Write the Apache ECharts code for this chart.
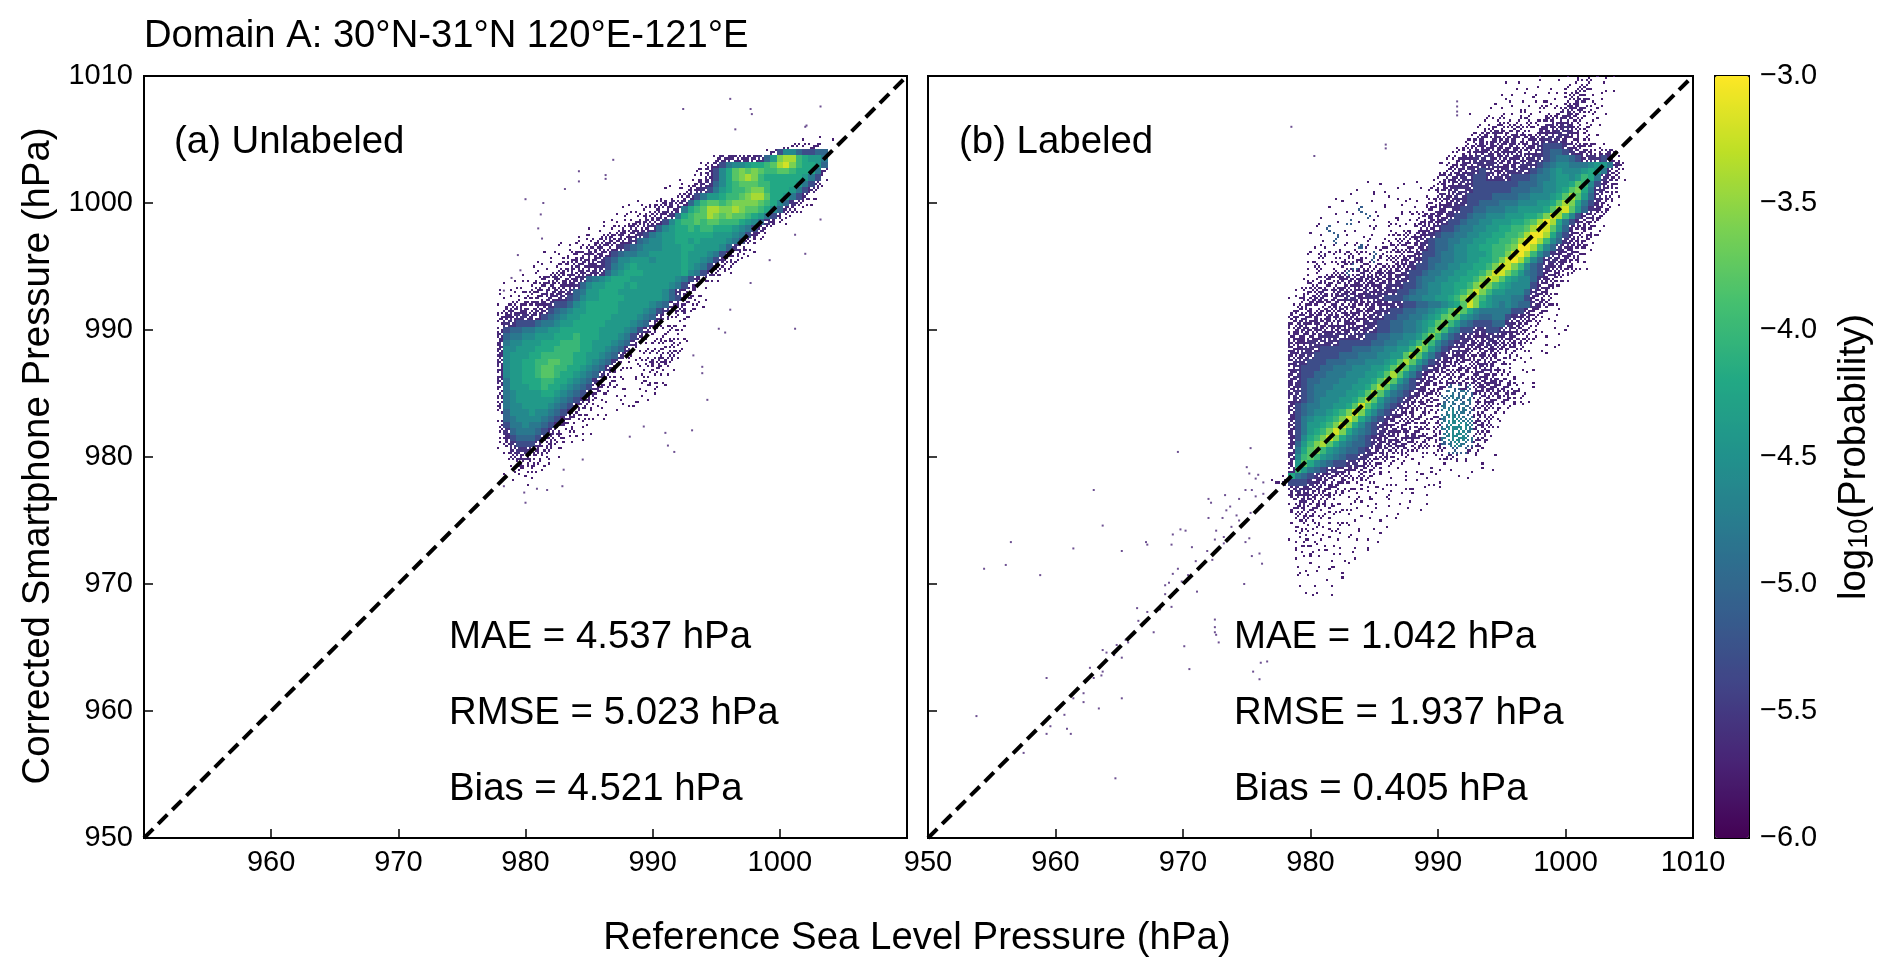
<!DOCTYPE html>
<html><head><meta charset="utf-8">
<style>html,body{margin:0;padding:0;background:#fff}#c{width:1892px;height:975px}</style>
<script src="https://cdn.jsdelivr.net/npm/echarts@6/dist/echarts.min.js"></script>
</head><body><div id="c"></div>
<script>
// Values: each row is [first column index, density codes], rows run downwards in 0.5 hPa steps.
const LOGP = {a:-5.75,b:-5.72,c:-5.68,d:-5.64,'0':-5.55,x:-5.1,y:-4.85,z:-4.6,'1':-5.3,'2':-5.0,'3':-4.8,'4':-4.6,'5':-4.4,'6':-4.2,'7':-4.0,'8':-3.8,'9':-3.6,A:-3.4,B:-3.2,C:-3.05};
const FILLED = {a:0.12,b:0.25,c:0.42,d:0.62,'0':0.82,x:0.3,y:0.45,z:0.55};
const STEP = 0.5;
const TICKS = [950,960,970,980,990,1000,1010];
const CB_TICKS = [-6,-5.5,-5,-4.5,-4,-3.5,-3];
const TITLE = 'Domain A: 30°N-31°N 120°E-121°E';
const PANEL_A = '(a) Unlabeled', PANEL_B = '(b) Labeled';
const STATS_A = ['MAE = 4.537 hPa','RMSE = 5.023 hPa','Bias = 4.521 hPa'];
const STATS_B = ['MAE = 1.042 hPa','RMSE = 1.937 hPa','Bias = 0.405 hPa'];

const A_X0 = 978, A_YTOP = 1005;
const rowsA = [
[48,"a.a.a"],[45,"bbbbcc"],[42,"ac14421122"],[34,"cdddddd0259AA76553"],[32,"bcd134456678AB976652"],
[31,"bcd14689898778876663c"],[28,"a.abcd14689A97666666531b"],[27,"a.abcd02467888776666531ca"],[26,"a.abcd01356778997666531db"],
[25,"a.abcd135567789AA866531dba"],[20,"a.b.bccdcd25788789999876420cba"],[19,"a.b.bccdcd3678AA99A9887642dcba"],[18,"a.b.bccdc036788A9898876531cba"],
[16,"a.b.bccdcd14677878877765420cba"],[14,"a.b.bccdcd02456676776665431dba"],[12,"a.b.bccdcd013455666666555431dba"],[10,"a.b.bccdcdd023445566565555431cba"],
[9,"a.b.bccdcd0123444555665555420cb"],[7,"a.b.bccdcdd123344555556555431dcbaa"],[6,"a.b.bccdcd0124455545555655431dcba"],[5,"a.b.bccdcdd013456555555565431dcba"],
[4,"a.b.bccdcddd02456665555556431dcba"],[2,"a.b.bccdccd023456665555555431dcba"],[1,"a.b.bccdcdd024556665655555431ccb"],[0,"b.b.bccdcdd023556665555555420cba"],
[1,"aabbbccdd0124556666555555421dcbb"],[0,"abccccdd0112456666655555432dccbba"],[0,"bcdddcdd1234556666655554310cccba"],
[0,"cdd00dd123455666665555432dcabba"],[0,"b00111233455666665555432dcabba"],[0,"c1223344556666665555431dcabbba"],
[0,"d233445556667666555431dbabbbba"],[0,"d34455566677766555432dbabbbcba"],[0,"d44555666777766554320babbbbcba"],
[0,"d4555667777766554320baabbcccb"],[0,"d455667788776654320baabbcccb"],[0,"d45566788776654320cbaaabbcba"],
[0,"d4556678876654320cba.aabbba"],[0,"d355666776654320cbba.aabbaa"],[0,"c35556676654321dcbbaa.aabaa"],
[0,"c3455556654321dcbba.a.aaa"],[0,"c345555554321dcbaa.a.aaa"],[0,"c34455554321dcbba..aaa"],[0,"b2444544321dcbba.aa"],
[0,"b234444321dcbbaaa"],[0,"b13343321dcbaaa"],[0,"b0233321dcbbaaa"],[0,"ad12221dcbbaaa"],[0,"ac0111dccbaa"],[0,"abd00dccbaa"],
[1,"acddcbbaa"],[2,"acccbaa"],[2,"abbbaa"],[1,"a.aaa"],[2,"a.a"]
];
const dotsA = [[996.1,1008.2],[992.4,1007.4],[997.7,1007.4],[997.8,1007.0],[1003.2,1007.6],[996.5,1005.8],[1002,1006],[1002.1,1006.1],[986.9,1003.4],[984.2,1002.5],[986.3,1002.2],[986.3,1001.9],[984.2,1001.7],[983.1,1001.1],[980,1000.3],[981.4,1000],[981.2,999.1],[981,998],[981.3,997.2],[979.4,995.9],[979.6,994.7],[978.9,994.1],[978.3,993.1],[1001.2,990.1],[1002,996],[1003.2,998.7],[995.7,989.8],[994.3,984.5],[991.7,980.4],[991,981.9],[993.1,982.1],[991.2,980.9],[988.2,981.6],[989.3,982.4],[984.5,979.8],[983,979],[982.9,977.7],[980,976.4],[981.7,977.4],[980.9,977.5],[979.9,977.2],[978.3,977.7],[993.2,988],[993.9,987.1],[993.9,986.6],[996.1,991.6],[997.7,993.7],[999.2,995.5],[1001.2,997.5],[995.2,990.1]];

const B_X0 = 977, B_YTOP = 1010;
const rowsB = [
[42,"a...a.a.bba.a"],[37,"a.a..a..a.abcb.a"],[38,"a.a.a.a.b.ccb.a.a"],[36,"a.a.ab.a.abccba.a"],[35,"a.b.a.a.bb.bcdcbaa"],
[34,"a.a.aab.bbabcddcbaa"],[31,"a..a.b.abbaabbcddcbbaa"],[33,"aabcbabcbbccddccbaa"],[32,"abbccbccbbcddd0dcbba"],[31,"abccdccdccbddd00dcbaa"],
[30,"abcdcddddccdd000dccba"],[29,"abccddddddcdd01110ddccba"],[28,"abbcdddddddcdd012210ddcccdb"],[27,"abcdd000dddddd00123321d001dc"],
[26,"abccdd0000ddd000123443334553db"],[26,"abcdd0010dd0000123454445653dca"],[25,"abcdd00110000111233455457630dca"],
[15,"a.a...a.a.abcdd0011111112223445568741dcb"],[13,"a..a.a.a..a.bccd00011111122233445689630dcb"],[10,"a.a...a.a.a.a.abcdd001111222233444568A8520cca"],[10,".a.a..a.a.aa.aabcdd00112223334445568A9631dcba"],
[9,"a..a.x.a.a.a.babcdd00112233344555568AB8520dcb"],[8,"a.a..a.x.a.ab.abcddd0112334445556679BA741ddcb"],[7,"a..a.x.a.a.abaabccdd011233445556678ACA631dccb"],[6,".a.x.a.a.ab.aaabbcdd011233445566778ACB852dcccba"],[6,"a.a.x.a.a.a.abbccdd012233445566778ACCA631dcccb"],
[8,"a.x.aa.b.abbcccd012233445566778ACCA7420dccb"],[7,"ab.ab.bxbabbccccd012234455667789CCA7420ddcca"],[6,"bacabbcbbbxbbcccdd11233445556779BCA7420dddcb"],
[6,"bbbabcbccbxbbccdd01223344556679BCA74200ddcca"],[6,"acb.bbcxccbcccdd01123344556679BB974210ddccba"],[6,"ab.bccxcdccdddd01123344556679BB975321ddccb"],
[5,"abbcccddcdddddd00123344556679BA8654420dccb"],[5,"bcccccdcddddd000112344556679A97654441ddcb"],[4,"abccdcddddd0d000112334455679B975544420dcba"],
[3,"abccddcdd00d0001112334455679B975444331dcca"],
[3,"a b c c c c c d c c d c d d d d 0 0 1 1 2 2 3 3 4 5 6 8 B 9 6 5 4 3 4 3 2 2 0 d c b a"],
[3,"b c c c c c d c d c d d d d 0 0 1 1 2 2 3 3 4 5 6 8 A 8 6 4 3 3 3 3 3 1 1 d c c b . a"],
[3,"c c d c d c d d c d d d d 0 0 1 1 2 2 3 3 4 5 6 8 9 8 5 4 3 2 2 3 3 1 0 d d c b a . a"],
[3,"c d d c d d d d d d d d 0 0 1 1 2 2 3 3 4 5 6 8 9 7 5 3 2 1 1 1 2 2 0 d d c c b . a . a"],
[3,"c d d d d d d d d d 0 d 0 0 1 1 2 2 3 3 4 5 7 9 7 4 3 1 1 0 0 1 1 0 d d c c b a . a . a"],
[3,"d d d d d 0 0 0 0 0 0 0 1 1 2 2 3 3 4 4 5 7 9 7 4 2 1 0 0 d d 0 0 d d d c c b . a . a"],
[3,"d d d 0 0 0 0 0 1 1 1 1 1 2 2 3 3 4 4 5 7 9 7 4 2 1 0 0 d d d 0 d d c c c b a . a . a"],
[3,"d d 0 0 0 1 1 1 1 1 2 2 2 3 3 4 4 5 5 7 A 8 5 3 1 0 0 d d c d d d c c c b b . a . a"],
[3,"d d 0 0 1 1 1 1 2 2 2 3 3 3 4 4 5 5 8 A 8 5 3 1 0 d d d c c d c c b c b a . a . a"],
[3,"d 0 0 1 1 1 2 2 2 3 3 3 4 4 4 5 6 8 A 8 5 3 1 0 d c d c c d d c c c b a . a"],
[3,"d 0 1 1 1 2 2 3 3 3 4 4 4 5 5 6 8 A 8 5 3 1 0 d d c c d c c d d c b a . a . a"],
[3,"d 0 1 1 2 2 3 3 3 4 4 4 5 5 6 8 A 8 5 3 1 d d c c c c c c d d c c b b a . a"],
[3,"d 0 1 2 2 3 3 3 4 4 4 5 5 6 8 A 8 5 3 1 0 d d c c d c c c d d d d c c b a . a"],
[3,"d 0 1 2 3 3 3 4 4 4 5 5 6 8 A 8 5 3 2 1 d d c c c x x d x c d d d c c b a . a"],
[3,"d 0 1 2 3 3 4 4 4 5 5 6 8 A 8 5 3 2 1 0 d d c c x y x y x c d c d c c c b a"],
[3,"d 0 1 2 3 4 4 4 5 5 6 8 A 8 5 3 2 1 0 d c c c b x y y x y c c d c c c b b a"],
[3,"d 1 2 3 3 4 4 5 5 6 8 B 8 6 4 2 1 0 d c c c b c y y x y x c c c c b b a a"],
[3,"d 1 2 3 4 4 5 6 7 9 B 9 6 4 2 1 0 d c c b c b b y z y y x c c b b a"],
[3,"d 1 3 4 5 5 6 7 9 B 9 6 4 2 1 0 d c c c c b b c y z z y y c c c b a"],
[3,"d 1 3 5 5 6 7 9 B 9 6 4 2 1 0 d c c c c c c b c y z z z y c c c b"],
[3,"d 1 3 5 6 7 9 B 9 6 4 3 2 1 0 d d c d c c c b c y z z z y c c b"],
[3,"d 1 4 6 7 9 B 9 6 4 3 2 1 0 d d d c d d c c c c y z z z y c c b"],
[3,"d 2 5 7 9 A 8 6 4 3 2 2 1 0 d d d d c c c c b c x y z y x c b"],
[3,"d 3 6 8 9 7 5 4 3 2 2 1 0 d d c c c c b b c a b b x x x c b a"],
[3,"d 4 7 8 7 5 4 3 2 1 1 0 0 c c c b b b a . a . b c c b a . a . . a"],
[3,"c 5 8 6 4 3 2 1 1 0 0 d c c b b b a a . a . . . a . a a . . a"],
[3,"d 7 5 3 2 1 0 0 d d c c c b b a . a a . a . b a . a . . a . a . a"],
[2,"a 6 3 2 1 0 d d c c c b c b b a . a . a . a b . a . . a . a"],
[0,"a b c 1 1 1 0 d d c c c b b b b a . a b . a . a . b a"],
[3,"c0dddcccbbbabab.a.ab.a.a"],[3,"cdddcccbbaaaaa.b.a.a.a"],[3,"bcdcccbbaabaab.a.a.a.a"],[3,"bccccbbaaba.aa.a..a.a"],[3,"acccbbabaa.a.a.a.a"],[3,"abcbbabaaaa.a.a.a"],
[4,"bbbbaaaaa.a.a.a"],[4,"bbbaaaaaa.a..a"],[3,"abbaaaaa.aa.a.a"],[4,"abbaa.aa.a.a"],[4,"aabaaaaa.a.a"],[4,"aaaa.a.a.a."],[4,"a.aa.aa.a"],[4,"aa.a.a.a"],[4,"a.a..a.a"],[4,"a..a.a"],[5,"a.a"],[6,"a..a"]
];
const dotsB = [[969.6,980.4],[963,977.4],[963.7,974.6],[956.5,973.3],[961.4,972.8],[965.2,972.6],[967.1,973.3],[967.2,973.1],[954.4,971.2],[956.1,971.5],[958.8,970.7],[953.8,959.6],[964.7,954.7],[959.3,962.6],[965.2,961],[963.4,960.2],[957.5,956.7],[959.3,958.2],[961.2,958.2],[960.9,958.6],[959.6,958.8],[960.7,959.7],[962.2,961.4],[962.2,960.7],[961.4,961],[962.3,962.4],[963,962.6],[963.6,962.8],[962.7,963.4],[963.7,963.1],[965.2,964.2],[963.7,964.8],[964,964.6],[964.6,964.4],[965.5,965.6],[964.8,965.2],[965.7,965.4],[966.4,968.1],[966.5,967.1],[967.2,967.8],[967.7,966.2],[968.2,968],[969.1,968.2],[968.6,969.2],[968.6,969.9],[968.9,970.1],[971.1,969.4],[969.9,970.2],[970.4,970.7],[969.2,970.8],[969.6,971.2],[971,971.8],[971.4,971.4],[971.9,972.6],[970.7,972.9],[969.1,973.1],[969.2,973.9],[969.8,974.3],[970.2,974.2],[972.6,974.2],[972.5,973.5],[973.2,973.7],[973.2,973.2],[972.3,971.9],[974.8,970],[975.4,972.2],[976,972.4],[976.2,971.6],[974.9,973.3],[975.2,973.6],[972,975.2],[972,976.7],[972.2,976.4],[973.1,975.2],[973.3,977],[973.4,975.8],[973.7,976.1],[974.4,976.7],[974.2,975.4],[973.8,974.5],[974.4,975],[974.9,977.4],[975.4,977.4],[975.7,976.9],[976,976.1],[975.3,975.6],[976.3,977.1],[976.3,978],[975,979.2],[975.2,978.7],[975.7,978.3],[975.9,978.6],[975.3,980.7],[972.5,967.2],[972.5,966.6],[972.5,966.2],[972.6,966],[972.8,965.4],[970.1,965.1],[970.5,963.3],[976.1,963.8],[976.6,963.9],[975.5,963.1],[976,962.5],[991.5,1008],[991.5,1007.6],[991.5,1007.2],[991.5,1006.9],[985.9,1004.6],[985.9,1004.3],[980.3,1003.7],[978.5,1006]];
const DOT_VALUE = -5.7;
const diagonal = [[950,950],[1010,1010]];
const VIRIDIS = ['#440154','#482475','#414487','#355f8d','#2a788e','#21918c','#22a884','#44bf70','#7ad151','#bddf26','#fde725'];

const FONT = '"Liberation Sans", Arial, sans-serif';
const PERM = [4,7,1,8,0,5,2,6,3];
function expand(rows, x0, yTop){
  const out=[];
  rows.forEach((row,r)=>{
    const y=yTop-r*STEP, s=row[1].replace(/ /g,'');
    [...s].forEach((ch,k)=>{ if(ch!=='.') out.push([x0+(row[0]+k)*STEP,y,LOGP[ch],(ch in FILLED)?FILLED[ch]:1]); });
  });
  return out;
}
function renderCell(params, api){
  const x=api.value(0), y=api.value(1), cov=api.value(3);
  const p0=api.coord([x-STEP/2,y+STEP/2]), p1=api.coord([x+STEP/2,y-STEP/2]);
  const L=Math.round(p0[0]),T=Math.round(p0[1]),R=Math.round(p1[0]),B=Math.round(p1[1]);
  const fill=api.visual('color');
  if(cov>=1) return {type:'rect',shape:{x:L,y:T,width:R-L,height:B-T},style:{fill}};
  const kids=[], ix=Math.round(x/STEP), iy=Math.round(y/STEP);
  const off=Math.abs((ix*73856093)^(iy*19349663))%9;
  for(let k=0;k<9;k++){
    const th=(((PERM[k]+off)%9)+0.5)/9;
    if(cov<=th) continue;
    const cx=k%3, cy=Math.floor(k/3);
    const a=Math.round(L+(R-L)*cx/3), b=Math.round(L+(R-L)*(cx+1)/3);
    const c=Math.round(T+(B-T)*cy/3), d=Math.round(T+(B-T)*(cy+1)/3);
    kids.push({type:'rect',shape:{x:a,y:c,width:b-a,height:d-c},style:{fill}});
  }
  return {type:'group',children:kids};
}
function cells(idx,data){return {type:'custom',xAxisIndex:idx,yAxisIndex:idx,coordinateSystem:'cartesian2d',renderItem:renderCell,data,clip:true,silent:true,encode:{x:0,y:1},animation:false,z:2};}
function dots(idx,pts){return {type:'scatter',xAxisIndex:idx,yAxisIndex:idx,data:pts.map(p=>[p[0],p[1],DOT_VALUE]),symbol:'rect',symbolSize:2,silent:true,animation:false,z:3,encode:{x:0,y:1}};}
function line(idx){return {type:'line',xAxisIndex:idx,yAxisIndex:idx,data:diagonal,showSymbol:false,silent:true,animation:false,z:5,lineStyle:{color:'#000',width:4,type:[13,7]}};}
function axis(type,gridIndex,labelFn){
  return {type:'value',gridIndex,min:950,max:1010,interval:10,splitLine:{show:false},
    axisLine:{show:true,onZero:false,lineStyle:{color:'#000',width:2}},
    axisTick:{show:true,inside:true,length:9,lineStyle:{color:'#000',width:1.5}},
    axisLabel:{show:!!labelFn,color:'#000',fontFamily:FONT,fontSize:29,margin:type==='x'?10:11,padding:type==='x'?0:[5,0,0,0],formatter:labelFn||undefined,showMinLabel:true,showMaxLabel:true,hideOverlap:false}};
}
function txt(x,y,text,o){return {type:'text',x,y,z:20,silent:true,rotation:(o&&o.rot)||0,style:Object.assign({text,fill:'#000',font:((o&&o.size)||38.4)+'px '+FONT,textAlign:(o&&o.align)||'left',textVerticalAlign:'middle'},(o&&o.style)||{})};}

const dataA=expand(rowsA,A_X0,A_YTOP), dataB=expand(rowsB,B_X0,B_YTOP);
const graphic=[
  txt(144,36.5,TITLE,{size:38.2}),
  txt(38,456,'Corrected Smartphone Pressure (hPa)',{rot:Math.PI/2,align:'center'}),
  txt(917,938.5,'Reference Sea Level Pressure (hPa)',{align:'center'}),
  txt(174,142.5,PANEL_A), txt(959,142.5,PANEL_B)
];
[637.5,713.5,789.5].forEach((y,i)=>{graphic.push(txt(449,y,STATS_A[i]));graphic.push(txt(1234,y,STATS_B[i]));});
graphic.push({type:'text',x:1851,y:457,z:20,silent:true,rotation:Math.PI/2,style:{text:'{n|log}{s|10}{n|(Probability)}',textAlign:'center',textVerticalAlign:'middle',fill:'#000',rich:{n:{font:'38.4px '+FONT,fill:'#000',verticalAlign:'bottom',lineHeight:44},s:{font:'27px '+FONT,fill:'#000',verticalAlign:'bottom',lineHeight:38}}}});

const option={
  backgroundColor:'#fff',animation:false,
  grid:[
    {left:144,top:76,width:763,height:762,show:true,borderColor:'#000',borderWidth:2,backgroundColor:'#fff',containLabel:false},
    {left:928,top:76,width:765,height:762,show:true,borderColor:'#000',borderWidth:2,backgroundColor:'#fff',containLabel:false},
    {left:1715,top:76,width:34,height:762,show:true,borderColor:'#000',borderWidth:2,containLabel:false}
  ],
  xAxis:[
    axis('x',0,v=>(v===TICKS[0]||v===TICKS[6])?'':String(v)),
    axis('x',1,v=>String(v)),
    {type:'value',gridIndex:2,show:false,min:0,max:1}
  ],
  yAxis:[
    axis('y',0,v=>String(v)),
    axis('y',1,null),
    {type:'value',gridIndex:2,position:'right',min:CB_TICKS[0],max:CB_TICKS[6],interval:0.5,splitLine:{show:false},
     axisLine:{show:true,lineStyle:{color:'#000',width:2}},
     axisTick:{show:true,inside:false,length:9,lineStyle:{color:'#000',width:1.5}},
     axisLabel:{color:'#000',fontFamily:FONT,fontSize:29,margin:11,padding:[5,0,0,0],showMinLabel:true,showMaxLabel:true,formatter:v=>'\u2212'+Math.abs(v).toFixed(1)}}
  ],
  visualMap:[{type:'continuous',min:-6,max:-3,dimension:2,seriesIndex:[0,1,3,4],inRange:{color:VIRIDIS},calculable:false,realtime:false,hoverLink:false,left:1715,top:76,itemWidth:34,itemHeight:762,padding:0,text:null,orient:'vertical',z:1}],
  series:[cells(0,dataA),dots(0,dotsA),line(0),cells(1,dataB),dots(1,dotsB),line(1)],
  graphic
};
echarts.init(document.getElementById('c'),null,{renderer:'canvas'}).setOption(option);
</script>
</body></html>
